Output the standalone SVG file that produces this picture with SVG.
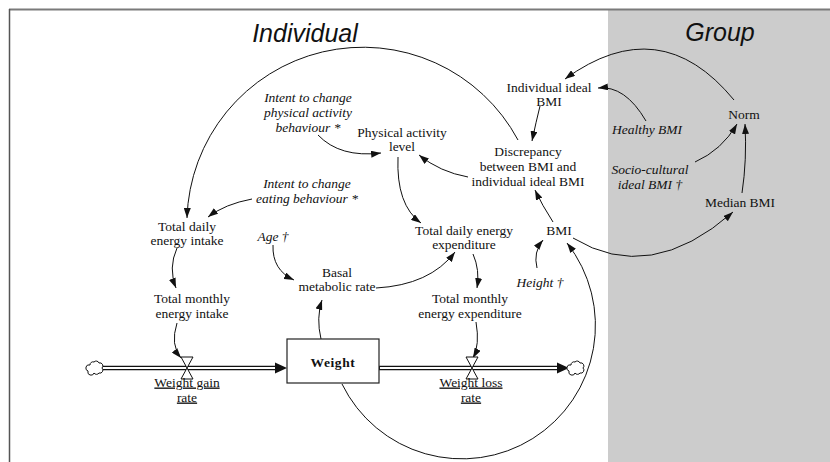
<svg xmlns="http://www.w3.org/2000/svg" width="830" height="462" viewBox="0 0 830 462">
<style>
.t{font-family:"Liberation Serif","Times New Roman",serif;font-size:13.5px;fill:#111;text-anchor:middle}
.i{font-style:italic}
.u{text-decoration:underline}
.h{font-family:"Liberation Sans",Arial,sans-serif;font-style:italic;font-size:25px;fill:#111;text-anchor:middle}
.c{fill:none;stroke:#111;stroke-width:1;marker-end:url(#ah)}
.pipeo{stroke:#111;stroke-width:4.5;fill:none}
.pipei{stroke:#fff;stroke-width:1.8;fill:none}
.v{fill:#fff;stroke:#111;stroke-width:1}
.cl{fill:#fff;stroke:#111;stroke-width:1}
</style>
<defs>
<marker id="ah" viewBox="0 0 10 7" refX="10" refY="3.5" markerWidth="10" markerHeight="7" markerUnits="userSpaceOnUse" orient="auto">
<path d="M0,0 L10,3.5 L0,7 z" fill="#111"/>
</marker>
<path id="cloud" d="M-5,-3 a3,3 0 0 1 4,-3 a3,3 0 0 1 5,1 a3,3 0 0 1 3,5 a3,3 0 0 1 -3,5 a3,3 0 0 1 -5,0 a3,3 0 0 1 -6,-2 a3,3 0 0 1 2,-6 z"/>
</defs>
<rect x="0" y="0" width="830" height="462" fill="#fff"/>
<rect x="608" y="10" width="222" height="452" fill="#cccccc"/>
<line x1="9" y1="9.5" x2="830" y2="9.5" stroke="#7a7a7a" stroke-width="2"/>
<line x1="9.5" y1="9" x2="9.5" y2="462" stroke="#555" stroke-width="1.5"/>
<text class="h" x="305" y="42">Individual</text>
<text class="h" x="720" y="41">Group</text>

<g id="connectors">
<path class="c" d="M518,140 A176,176 0 0 0 187,218"/>
<path class="c" d="M342,384 A133.5,133.5 0 1 0 567,243"/>
<path class="c" d="M573,238 Q650,285 733,212"/>
<path class="c" d="M742,193 Q747,160 745,124"/>
<path class="c" d="M695,162 Q722,150 737,124"/>
<path class="c" d="M734,100 Q660,10 565,79"/>
<path class="c" d="M646,121 Q625,85 598,88"/>
<path class="c" d="M540,106 Q536,122 532,141"/>
<path class="c" d="M553,222 Q542,205 535,190"/>
<path class="c" d="M468,177 Q440,172 419,155"/>
<path class="c" d="M318,135 Q340,158 381,153"/>
<path class="c" d="M398,157 Q396,205 421,223"/>
<path class="c" d="M252,199 Q225,204 208,217"/>
<path class="c" d="M177,248 Q168,268 176,288"/>
<path class="c" d="M273,245 Q272,270 294,280"/>
<path class="c" d="M376,288 Q430,285 455,252"/>
<path class="c" d="M321,339 Q316,318 322,300"/>
<path class="c" d="M473,254 Q480,270 477,288"/>
<path class="c" d="M177,323 Q170,345 181,358"/>
<path class="c" d="M476,322 Q480,345 473,358"/>
<path class="c" d="M537,268 Q533,252 543,240"/>
</g>

<g id="flow-in">
<line class="pipeo" x1="102" y1="368" x2="277" y2="368"/>
<line class="pipei" x1="101" y1="368" x2="278" y2="368"/>
<polygon points="275,362.5 287,368 275,373.5" fill="#111"/>
<use href="#cloud" x="95" y="368" class="cl"/>
</g>
<g id="flow-out">
<line class="pipeo" x1="379" y1="368" x2="558" y2="368"/>
<line class="pipei" x1="380" y1="368" x2="559" y2="368"/>
<polygon points="557,362.5 569,368 557,373.5" fill="#111"/>
<use href="#cloud" x="576" y="368" class="cl"/>
</g>

<g id="weight-gain-rate">
<polygon class="v" points="181,357 193,357 187,368"/>
<polygon class="v" points="187,368 181,379 193,379"/>
<text class="t u" x="187" y="386.5">Weight gain</text>
<text class="t u" x="187" y="401.5">rate</text>
</g>
<g id="weight-loss-rate">
<polygon class="v" points="466,357 478,357 472,368"/>
<polygon class="v" points="472,368 466,379 478,379"/>
<text class="t u" x="471" y="386.5">Weight loss</text>
<text class="t u" x="471" y="401.5">rate</text>
</g>
<g id="weight">
<rect x="287" y="339" width="92" height="44" fill="#fff" stroke="#222" stroke-width="1.2"/>
<text class="t" x="333" y="366.5" font-weight="bold" letter-spacing="0.6">Weight</text>
</g>

<g id="intent-pa"><text class="t i" x="308" y="101.5">Intent to change</text><text class="t i" x="308" y="116.5">physical activity</text><text class="t i" x="308" y="131.5">behaviour *</text></g>
<g id="pa-level"><text class="t" x="402" y="136.5">Physical activity</text><text class="t" x="402" y="151">level</text></g>
<g id="discrepancy"><text class="t" x="528" y="156">Discrepancy</text><text class="t" x="528" y="170.5">between BMI and</text><text class="t" x="528" y="186">individual ideal BMI</text></g>
<g id="ideal-bmi"><text class="t" x="549" y="91.5">Individual ideal</text><text class="t" x="549" y="105.5">BMI</text></g>
<g id="intent-eat"><text class="t i" x="307" y="187.5">Intent to change</text><text class="t i" x="307" y="203">eating behaviour *</text></g>
<g id="tdei"><text class="t" x="187" y="230.5">Total daily</text><text class="t" x="187" y="244.5">energy intake</text></g>
<g id="age"><text class="t i" x="273" y="240.5">Age †</text></g>
<g id="bmr"><text class="t" x="337" y="276.5">Basal</text><text class="t" x="337" y="290.5">metabolic rate</text></g>
<g id="tdee"><text class="t" x="464" y="234.5">Total daily energy</text><text class="t" x="464" y="249">expenditure</text></g>
<g id="bmi"><text class="t" x="559" y="234.5">BMI</text></g>
<g id="height"><text class="t i" x="540" y="286.5">Height †</text></g>
<g id="tmei"><text class="t" x="192" y="302.5">Total monthly</text><text class="t" x="192" y="317.5">energy intake</text></g>
<g id="tmee"><text class="t" x="470" y="302.5">Total monthly</text><text class="t" x="470" y="317.5">energy expenditure</text></g>
<g id="healthy-bmi"><text class="t i" x="647" y="134">Healthy BMI</text></g>
<g id="norm"><text class="t" x="744" y="118.5">Norm</text></g>
<g id="socio"><text class="t i" x="650" y="173.5">Socio-cultural</text><text class="t i" x="650" y="188.5">ideal BMI †</text></g>
<g id="median-bmi"><text class="t" x="740" y="206.5">Median BMI</text></g>
</svg>
